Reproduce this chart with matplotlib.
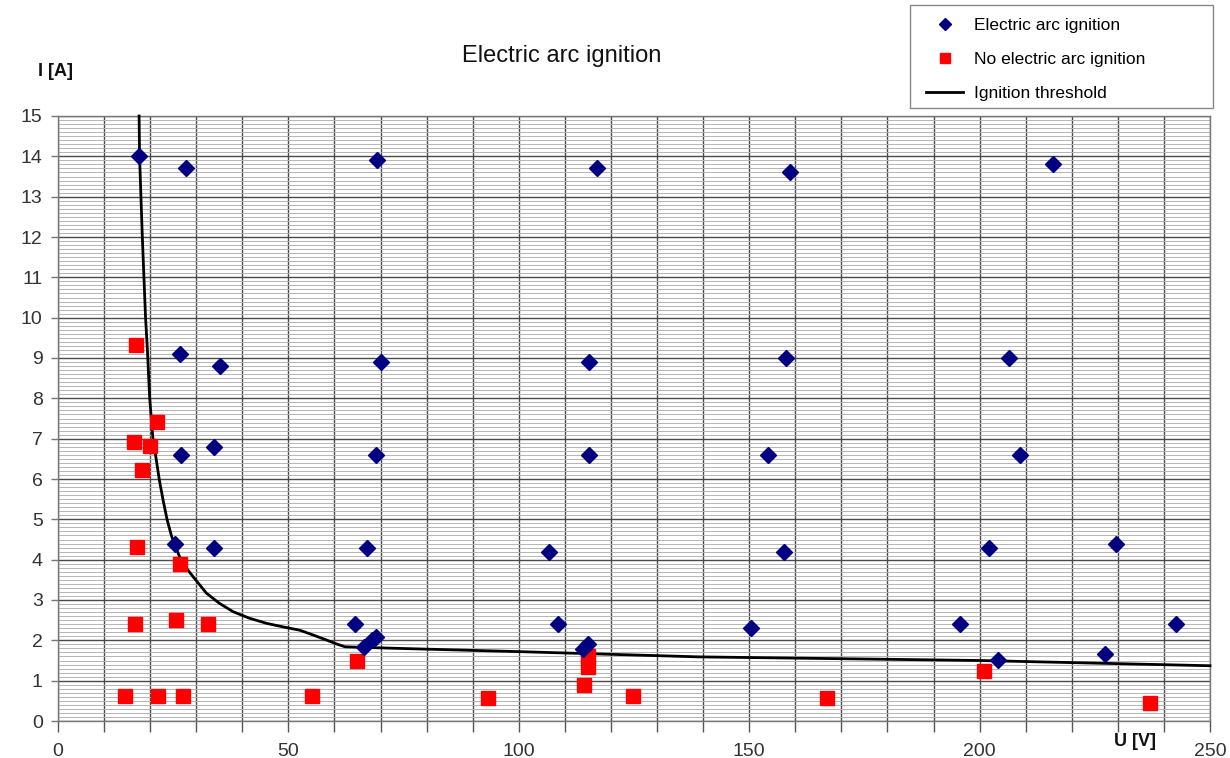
import numpy as np
import matplotlib
matplotlib.use("Agg")
import matplotlib.pyplot as plt
from matplotlib.lines import Line2D
from matplotlib.patches import Rectangle

plt.rcParams['font.family'] = ['Liberation Sans', 'DejaVu Sans']

# Electric arc ignition points (U [V], I [A])
arc_u = [17.6, 27.8, 69.2, 117.0, 158.9, 215.9,
         26.5, 35.2, 70.1, 115.2, 158.0, 206.4,
         26.7, 33.9, 69.0, 115.2, 154.1, 208.8,
         25.4, 33.9, 67.1, 106.6, 157.6, 202.0, 229.6,
         64.5, 108.6, 150.4, 195.7, 242.7,
         66.3, 68.1, 69.0, 114.0, 115.0, 203.9, 227.2]
arc_i = [14.0, 13.7, 13.9, 13.7, 13.6, 13.8,
         9.1, 8.8, 8.9, 8.9, 9.0, 9.0,
         6.6, 6.8, 6.6, 6.6, 6.6, 6.6,
         4.4, 4.3, 4.3, 4.2, 4.2, 4.3, 4.4,
         2.4, 2.4, 2.3, 2.4, 2.4,
         1.83, 2.02, 2.08, 1.78, 1.9, 1.51, 1.67]

# No electric arc ignition points
no_u = [16.9, 21.5, 16.5, 20.0, 18.2, 17.1, 26.5, 16.7, 25.6, 32.6,
        14.5, 21.7, 27.1, 55.1, 64.8, 93.3, 114.2, 115.0, 115.0, 124.8,
        166.9, 201.0, 237.0]
no_i = [9.32, 7.41, 6.92, 6.82, 6.22, 4.31, 3.89, 2.4, 2.5, 2.4,
        0.62, 0.62, 0.62, 0.62, 1.5, 0.57, 0.89, 1.6, 1.35, 0.62,
        0.57, 1.24, 0.45]

# Ignition threshold curve
thr_u = [17.6, 17.7, 18.3, 19.0, 19.4, 19.9, 20.6, 21.3, 22.0, 22.8, 23.7,
         24.6, 25.4, 26.4, 27.8, 29.3, 32.2, 35.0, 38.0, 41.5, 45.3, 49.0,
         52.5, 55.4, 58.0, 60.2, 62.3, 65.0, 74.0, 100, 139, 200, 250]
thr_i = [15, 14, 12, 10, 9.2, 8.0, 7.0, 6.5, 5.97, 5.48, 4.98,
         4.6, 4.35, 4.07, 3.8, 3.58, 3.17, 2.92, 2.71, 2.55, 2.42, 2.33,
         2.25, 2.13, 2.02, 1.92, 1.84, 1.83, 1.80, 1.72, 1.59, 1.50, 1.37]

W, H = 1230, 758
fig = plt.figure(figsize=(W/100, H/100), dpi=100)
ax = fig.add_axes([58/W, 1-721/H, (1210-58)/W, (721-116)/H])

ax.set_xlim(0, 250)
ax.set_ylim(0, 15)
ax.set_xticks(np.arange(0, 251, 10))
ax.set_xticklabels([str(v) if v % 50 == 0 else '' for v in range(0, 251, 10)])
ax.set_yticks(np.arange(0, 16, 1))
ax.set_yticks(np.arange(0, 15.01, 0.1), minor=True)

ax.grid(which='major', axis='both', color='#4a4a4a', linewidth=1.0, zorder=0)
ax.grid(which='minor', axis='y', color='#b4b4b4', linewidth=0.7, zorder=0)
ax.set_axisbelow(True)

ax.tick_params(axis='y', which='major', length=5, width=1, color='#777777',
               labelsize=14, labelcolor='#333333', pad=6)
ax.tick_params(axis='y', which='minor', length=0)
ax.tick_params(axis='x', which='major', length=8, width=1, color='#555555',
               labelsize=14, labelcolor='#333333', pad=8)
for s in ax.spines.values():
    s.set_color('#777777')
    s.set_linewidth(1.0)

ax.plot(thr_u, thr_i, color='black', linewidth=2.0, zorder=3, clip_on=False)
ax.plot(no_u, no_i, linestyle='none', marker='s', markersize=10,
        color='#ff0000', zorder=4)
ax.plot(arc_u, arc_i, linestyle='none', marker='D', markersize=8,
        color='#000080', zorder=5)

fig.text(562/W, 1-56/H, 'Electric arc ignition', fontsize=17,
         ha='center', va='center', color='#111111')
fig.text(55/W, 1-72/H, 'I [A]', fontsize=13, ha='center', va='center',
         color='#111111', fontweight='bold')
fig.text(1135/W, 1-742/H, 'U [V]', fontsize=13, ha='center', va='center',
         color='#111111', fontweight='bold')

# legend frame
fig.patches.append(Rectangle((910/W, 1-108/H), (1213-910)/W, (108-5)/H,
                             transform=fig.transFigure, facecolor='white',
                             edgecolor='#888888', linewidth=1.0, zorder=1))

handles = [
    Line2D([], [], linestyle='none', marker='D', markersize=6, color='#000080'),
    Line2D([], [], linestyle='none', marker='s', markersize=7, color='#ff0000'),
    Line2D([], [], color='black', linewidth=2),
]
labels = ['Electric arc ignition', 'No electric arc ignition', 'Ignition threshold']
leg = fig.legend(handles, labels, loc='upper left',
                 bbox_to_anchor=(926/W, 1-18/H), fontsize=12.5,
                 frameon=False, borderpad=0, labelspacing=1.08,
                 handlelength=2.15, handletextpad=0.6, borderaxespad=0)
leg.set_zorder(2)

fig.savefig('out.png', dpi=100)
